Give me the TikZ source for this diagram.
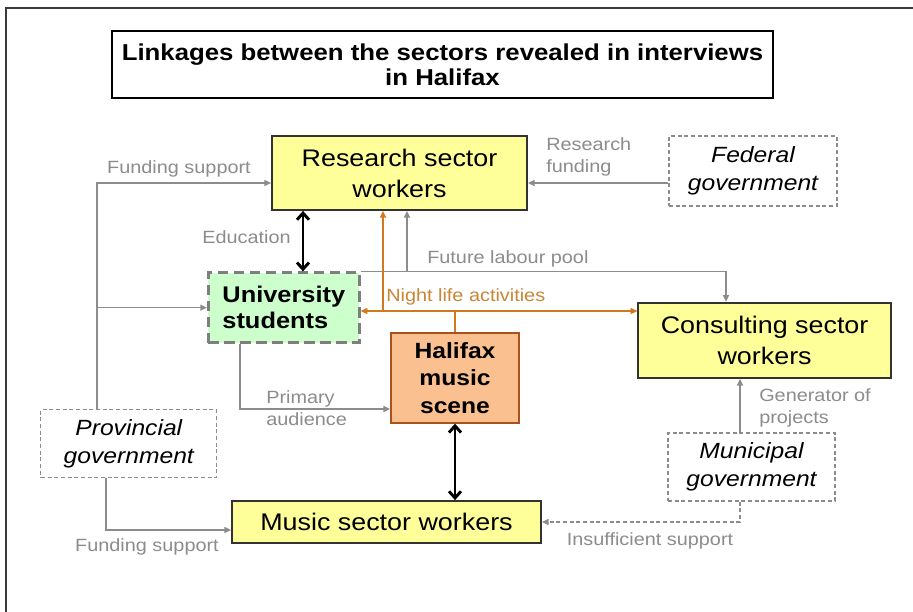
\documentclass[tikz,border=0pt]{standalone}
\usepackage{fontspec}
\setmainfont{Liberation Sans}[FakeStretch=1.12]
\usetikzlibrary{arrows.meta}
\definecolor{Sticky}{HTML}{FFFF99}
\definecolor{Mint}{HTML}{CCFFCC}
\definecolor{Peach}{HTML}{FAC090}
\definecolor{Rust}{HTML}{A8531C}
\definecolor{Ink}{HTML}{333333}
\definecolor{Frame}{HTML}{3A3A3A}
\definecolor{Mute}{HTML}{8C8C8C}
\definecolor{Night}{HTML}{D2781E}
\definecolor{NightText}{HTML}{C98636}

\begin{document}
\begin{tikzpicture}[x=0.75pt,y=-0.75pt,
  heading/.style={draw=black,fill=white,line width=0.8pt,align=center,inner sep=0pt,font=\bfseries\fontsize{17.25}{18.75}\selectfont},
  sector/.style={draw=Ink,fill=Sticky,line width=1.3pt,align=center,inner sep=0pt,font=\fontsize{18}{23.25}\selectfont},
  learner/.style={draw=Mute!90!black,fill=Mint,line width=2pt,dash pattern=on 8pt off 4pt,align=left,inner sep=0pt,font=\bfseries\fontsize{17}{19.5}\selectfont},
  hub/.style={draw=Rust,fill=Peach,line width=1.5pt,align=center,inner sep=0pt,font=\bfseries\fontsize{16.5}{20.6}\selectfont},
  gov/.style={draw=Mute,fill=white,line width=0.8pt,dash pattern=on 3pt off 2pt,align=center,inner sep=0pt,font=\itshape\fontsize{16.5}{21}\selectfont},
  remark/.style={text=Mute,inner sep=0pt,font=\fontsize{13.3}{16.5}\selectfont},
  flow/.style={draw=Mute,line width=1.1pt,-{Triangle[length=5pt,width=4.5pt]}},
  nightline/.style={draw=Night,line width=1.1pt},
  dbl/.style={draw=black,line width=2.2pt,{Straight Barb[length=5pt,width=9pt]}-{Straight Barb[length=5pt,width=9pt]}}
]
\clip (0,0) rectangle (913,611);
\fill[white] (0,0) rectangle (913,611);
\draw[draw=Frame,line width=1.6pt] (6,8) rectangle (940,640);
\node[heading,minimum width=495.75pt,minimum height=50.25pt] (title) at (442.5,64.5) {Linkages between the sectors revealed in interviews\\in Halifax};
\node[sector,minimum width=191.25pt,minimum height=55.5pt] (research) at (399.5,173) {Research sector\\workers};
\node[gov,minimum width=126pt,minimum height=52.5pt] (federal) at (753,171) {Federal\\government};
\node[learner,minimum width=113.25pt,minimum height=52.5pt] (univ) at (283.8,307.7) {University\\students};
\node[sector,minimum width=189.5pt,minimum height=56.5pt] (consulting) at (764.6,340.3) {Consulting sector\\workers};
\node[hub,minimum width=96pt,minimum height=67pt] (scene) at (455,378) {Halifax\\music\\scene};
\node[gov,minimum width=131.8pt,minimum height=50.8pt] (provincial) at (128.8,443.8) {Provincial\\government};
\node[gov,minimum width=125.25pt,minimum height=51pt] (municipal) at (751.5,467) {Municipal\\government};
\node[sector,minimum width=231.75pt,minimum height=31.5pt] (music) at (386.5,522) {Music sector workers};
\coordinate (resfund) at (600,183);
\draw[flow] (resfund -| federal.west) -- (resfund -| research.east);
\node[remark,anchor=west,align=left] (resfundLbl) at (546,156.5) {Research\\funding};
\coordinate (fundTop) at (97,183);
\draw[flow] (fundTop |- provincial.north) -- (fundTop) -- (fundTop -| research.west);
\draw[flow] (fundTop |- univ.west) -- (univ.west);
\node[remark] (fundTopLbl) at (179,169) {Funding support};
\coordinate (edu) at (303,240);
\draw[dbl] (edu |- research.south) -- (edu |- univ.north);
\node[remark,anchor=east] (eduLbl) at (291,237) {Education};
\coordinate (pool) at (726,273);
\draw[flow] (univ.north east) -| (pool |- consulting.north);
\coordinate (poolUp) at (407,273);
\draw[flow] (poolUp |- univ.north) -- (poolUp |- research.south);
\node[remark,anchor=west] (poolLbl) at (427,259) {Future labour pool};
\coordinate (night) at (455,311);
\draw[nightline,{Triangle[length=5pt,width=4.5pt]}-{Triangle[length=5pt,width=4.5pt]}] (night -| univ.east) -- (night -| consulting.west);
\draw[nightline] (scene.north) -- (scene.north |- night);
\coordinate (nightUp) at (383,311);
\draw[nightline,-{Triangle[length=5pt,width=4.5pt]}] (nightUp) -- (nightUp |- research.south);
\node[remark,text=NightText,anchor=west] (nightLbl) at (386,297) {Night life activities};
\coordinate (aud) at (240,409);
\draw[flow] (aud |- univ.south) -- (aud) -- (aud -| scene.west);
\node[remark,anchor=west,align=left] (audLbl) at (266,408) {Primary\\audience};
\draw[dbl] (scene.south) -- (scene.south |- music.north);
\coordinate (fundBot) at (106,530);
\draw[flow] (fundBot |- provincial.south) -- (fundBot) -- (fundBot -| music.west);
\node[remark] (fundBotLbl) at (147,547) {Funding support};
\coordinate (gen) at (740,400);
\draw[flow] (gen |- municipal.north) -- (gen |- consulting.south);
\node[remark,anchor=west,align=left] (genLbl) at (759,408) {Generator of\\projects};
\coordinate (insuf) at (740,522);
\draw[flow,dash pattern=on 3pt off 2pt] (insuf |- municipal.south) -- (insuf) -- (insuf -| music.east);
\node[remark] (insufLbl) at (650,541) {Insufficient support};
\end{tikzpicture}
\end{document}
